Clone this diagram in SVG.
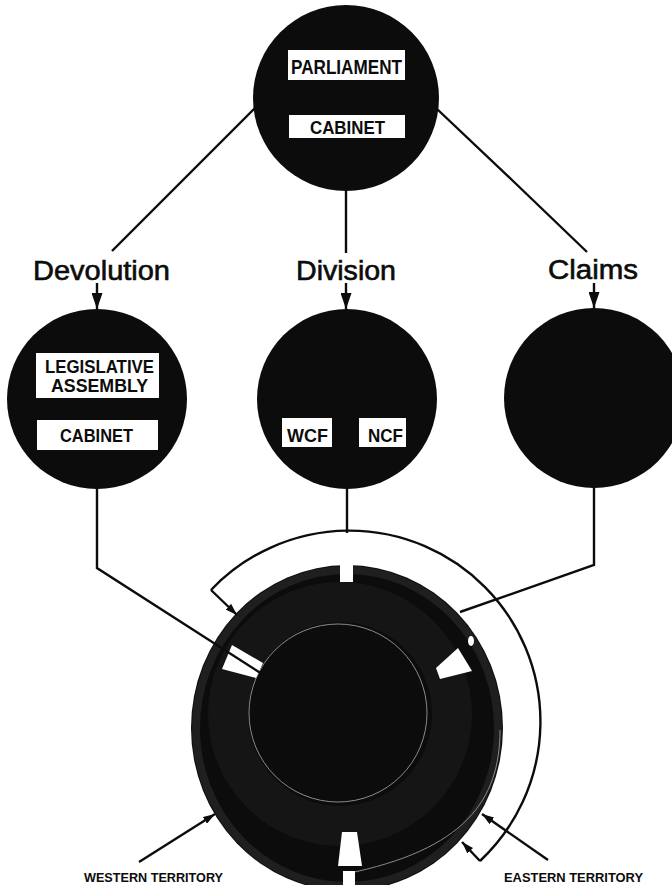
<svg xmlns="http://www.w3.org/2000/svg" width="672" height="885" viewBox="0 0 672 885">
<style>
.node{fill:#0c0c0c}
.box{fill:#fff}
.bt{font-family:"Liberation Sans",Arial,sans-serif;font-weight:bold;fill:#0c0c0c;text-anchor:middle}
.lbl{font-family:"Liberation Sans",Arial,sans-serif;fill:#0c0c0c;stroke:#0c0c0c;stroke-width:0.6;text-anchor:middle;font-size:27px}
.ter{font-family:"Liberation Sans",Arial,sans-serif;font-weight:bold;fill:#0c0c0c;text-anchor:middle;font-size:12px}
.ln{fill:none;stroke:#0c0c0c;stroke-width:2.4;stroke-linejoin:miter}
.slot{fill:#fff}
</style>
<defs>
<marker id="ah" viewBox="0 0 16 11" refX="16" refY="5.5" markerWidth="16" markerHeight="11" markerUnits="userSpaceOnUse" orient="auto">
<path d="M0,0 L16,5.5 L0,11 z" fill="#0c0c0c"/>
</marker>
<marker id="as" viewBox="0 0 12 8" refX="12" refY="4" markerWidth="12" markerHeight="8" markerUnits="userSpaceOnUse" orient="auto">
<path d="M0,0 L12,4 L0,8 z" fill="#0c0c0c"/>
</marker>
</defs>
<rect width="672" height="885" fill="#fff"/>

<g id="node-parliament">
<circle class="node" cx="346" cy="98" r="93"/>
<rect class="box" x="288" y="50" width="117" height="30"/>
<text class="bt" x="346.5" y="74" font-size="21" textLength="111" lengthAdjust="spacingAndGlyphs">PARLIAMENT</text>
<rect class="box" x="289" y="115" width="116" height="23"/>
<text class="bt" x="347.5" y="134" font-size="19" textLength="75" lengthAdjust="spacingAndGlyphs">CABINET</text>
</g>

<g id="label-devolution"><text class="lbl" x="101.5" y="280" textLength="137" lengthAdjust="spacingAndGlyphs">Devolution</text></g>
<g id="label-division"><text class="lbl" x="346" y="280" textLength="100" lengthAdjust="spacingAndGlyphs">Division</text></g>
<g id="label-claims"><text class="lbl" x="593" y="279" textLength="90" lengthAdjust="spacingAndGlyphs">Claims</text></g>

<g id="node-devolution">
<circle class="node" cx="97" cy="399" r="90"/>
<rect class="box" x="36" y="353" width="123" height="45"/>
<text class="bt" x="99.5" y="373" font-size="18" textLength="109" lengthAdjust="spacingAndGlyphs">LEGISLATIVE</text>
<text class="bt" x="99.5" y="392" font-size="18" textLength="97" lengthAdjust="spacingAndGlyphs">ASSEMBLY</text>
<rect class="box" x="37" y="420" width="121" height="30"/>
<text class="bt" x="96.5" y="442" font-size="18" textLength="73" lengthAdjust="spacingAndGlyphs">CABINET</text>
</g>

<g id="node-division">
<circle class="node" cx="347" cy="399" r="90"/>
<rect class="box" x="282" y="418" width="50" height="29"/>
<text class="bt" x="307.5" y="441.5" font-size="19" textLength="41" lengthAdjust="spacingAndGlyphs">WCF</text>
<rect class="box" x="359" y="418" width="47" height="29"/>
<text class="bt" x="385.5" y="441.5" font-size="19" textLength="35" lengthAdjust="spacingAndGlyphs">NCF</text>
</g>

<g id="node-claims">
<circle class="node" cx="594" cy="398" r="90"/>
</g>

<g id="node-territory">
<ellipse cx="347" cy="728" rx="156" ry="163" fill="#0c0c0c"/>
<ellipse cx="347" cy="728" rx="151" ry="158" fill="none" stroke="#1f1f1f" stroke-width="8"/>
<circle cx="340" cy="714" r="112" fill="none" stroke="#151515" stroke-width="40"/>
<circle cx="338" cy="713" r="89" fill="none" stroke="#8a8a8a" stroke-width="1"/>
<path d="M500 730 C500 800 465 850 345 874" fill="none" stroke="#8a8a8a" stroke-width="1"/>
<rect class="slot" x="340" y="556" width="13" height="26"/>
<polygon class="slot" points="232,645 263,663 256,678 222,669"/>
<polygon class="slot" points="436,668 458,648 472,671 440,679"/>
<ellipse class="slot" cx="471" cy="641" rx="3" ry="5"/>
<polygon class="slot" points="342,832 357,832 362,866 338,866"/>
<rect class="slot" x="343" y="871" width="12" height="16"/>
</g>

<g id="label-western"><text class="ter" x="153.5" y="882" textLength="139" lengthAdjust="spacingAndGlyphs">WESTERN TERRITORY</text></g>
<g id="label-eastern"><text class="ter" x="573.5" y="882" textLength="139" lengthAdjust="spacingAndGlyphs">EASTERN TERRITORY</text></g>

<g id="connectors">
<path class="ln" stroke-width="2.8" d="M255 108 L112 251"/>
<path class="ln" stroke-width="2.8" d="M346 190 L346 253"/>
<path class="ln" stroke-width="2.8" d="M437 109 L512 180 L537 204 L587 252"/>
<path class="ln" d="M97 283 L97 309" marker-end="url(#ah)"/>
<path class="ln" d="M346 283 L346 309" marker-end="url(#ah)"/>
<path class="ln" d="M594 283 L594 308" marker-end="url(#ah)"/>
<path class="ln" d="M97 488 L97 568 L262 674"/>
<path class="ln" d="M347 488 L347 533"/>
<path class="ln" d="M594 487 L594 565 L460 612"/>
<path class="ln" stroke-width="2.6" d="M211 590 A191 191 0 1 1 480 861"/>
<path class="ln" d="M211 590 L237 615" marker-end="url(#as)"/>
<path class="ln" d="M480 861 L462 842" marker-end="url(#as)"/>
<path class="ln" stroke-width="2" d="M139 862 L215 814" marker-end="url(#as)"/>
<path class="ln" stroke-width="2" d="M548 860 L482 814" marker-end="url(#as)"/>
</g>
</svg>
